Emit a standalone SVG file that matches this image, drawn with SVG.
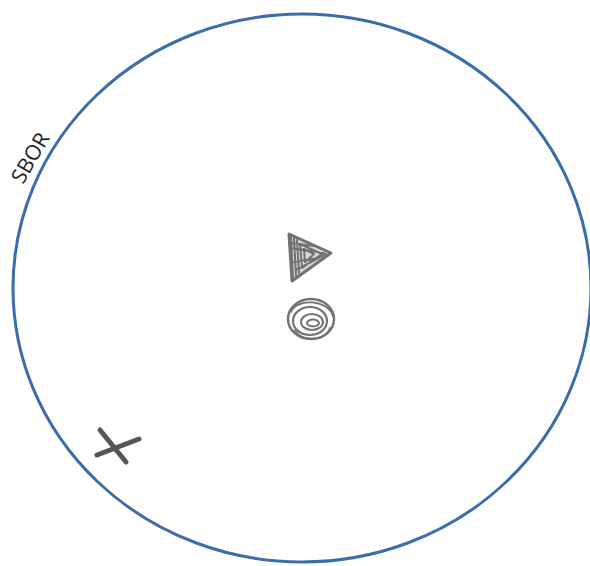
<svg xmlns="http://www.w3.org/2000/svg" width="590" height="566" viewBox="0 0 590 566">
<style>
.ring{fill:none;stroke:#3b6ea8;stroke-width:3}
.pencil{fill:none;stroke:#727272;stroke-linecap:round;stroke-linejoin:round}
.dark{stroke:#555555}
.lbl{font-family:"Open Sans","Liberation Sans",sans-serif;font-size:21px;fill:#1e1e1e}
</style>
<rect width="590" height="566" fill="#ffffff"/>
<g id="boundary">
<ellipse class="ring" cx="302" cy="288" rx="289" ry="274"/>
<text class="lbl" transform="translate(23,185) rotate(-60)">SBOR</text>
</g>
<g id="triangle">
<path d="M289,234 L331,253 L292,281 Z" fill="#d8d8d8" stroke="none"/>
<path class="pencil" stroke-width="3" d="M289,234 L331,253 L292,281 Z"/>
<path class="pencil" stroke-width="2" d="M291,236 L293,279 M294,238 L296,276 M297,240 L299,273 M300,244 L322,254 L302,268 Z M304,249 L314,254 L305,262 Z M292,248 L324,253 M293,262 L318,258 M296,270 L326,254 M292,243 L314,246"/>
</g>
<g id="spiral">
<ellipse class="pencil" stroke-width="2.5" cx="311" cy="319" rx="23" ry="20"/>
<ellipse class="pencil" stroke-width="2.2" cx="310" cy="321" rx="17" ry="14"/>
<ellipse class="pencil" stroke-width="2" cx="312" cy="322" rx="11" ry="8"/>
<ellipse class="pencil" stroke-width="2" cx="313" cy="323" rx="6" ry="3.5"/>
<path class="pencil" stroke-width="1.8" d="M291,312 C296,298 328,299 333,316 M295,330 C300,342 326,342 330,328"/>
</g>
<g id="cross">
<path class="pencil dark" stroke-width="5" d="M100,430 L126,462 M97,455 L139,439"/>
</g>
<g id="connectors"></g>
</svg>
